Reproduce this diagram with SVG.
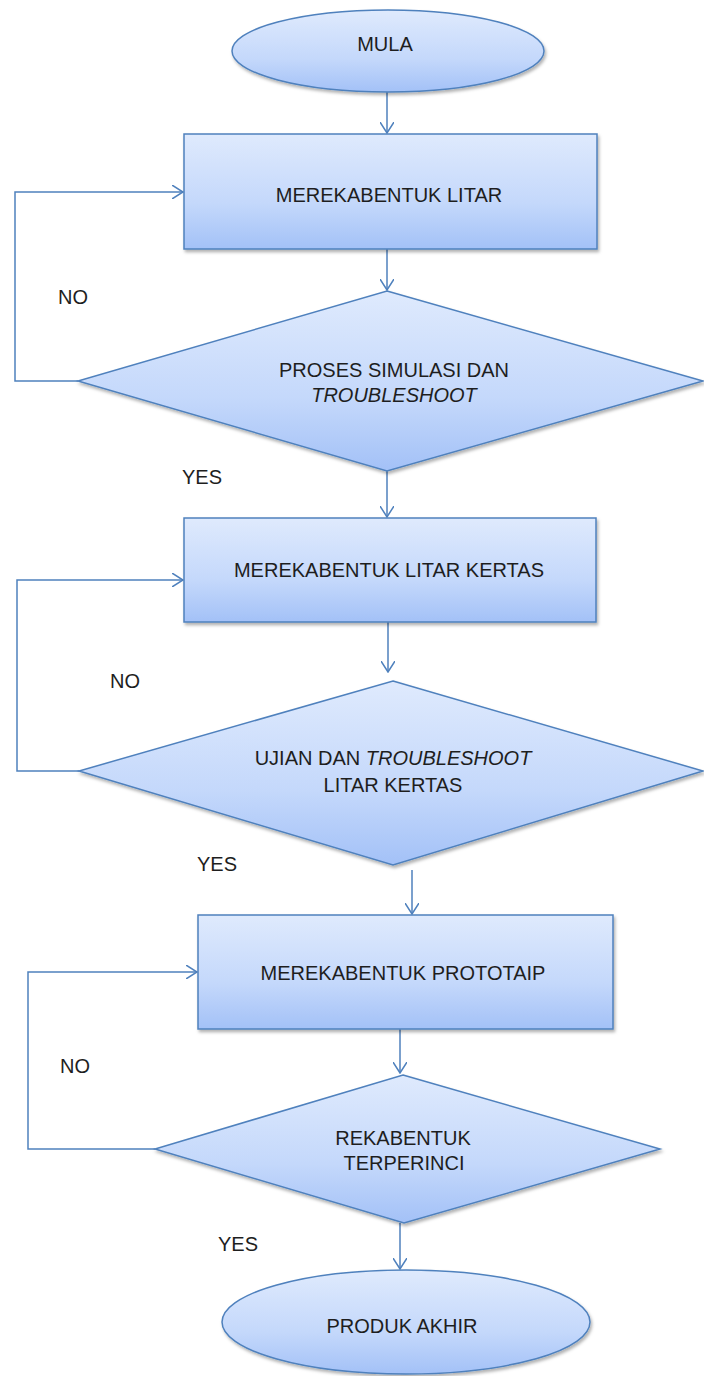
<svg xmlns="http://www.w3.org/2000/svg" width="704" height="1376" viewBox="0 0 704 1376">
<defs>
<linearGradient id="g" x1="0" y1="0" x2="0" y2="1">
<stop offset="0" stop-color="#dfeafd"/>
<stop offset="0.6" stop-color="#c4d8fb"/>
<stop offset="1" stop-color="#a3c1f7"/>
</linearGradient>
<filter id="sh" x="-10%" y="-10%" width="120%" height="130%">
<feDropShadow dx="1.5" dy="2.5" stdDeviation="1.5" flood-color="#000" flood-opacity="0.3"/>
</filter>
<marker id="arr" viewBox="0 0 12 14" refX="11" refY="7" markerWidth="12" markerHeight="14" markerUnits="userSpaceOnUse" orient="auto">
<path d="M0,0 L11,7 L0,14" fill="none" stroke="#4f81bd" stroke-width="1.5"/>
</marker>
<style>
.shape{fill:url(#g);stroke:#4f81bd;stroke-width:1.5;filter:url(#sh)}
.t{font-family:"Liberation Sans",Arial,sans-serif;font-size:20px;fill:#1e1e1e;text-anchor:middle}
.lbl{font-family:"Liberation Sans",Arial,sans-serif;font-size:20px;fill:#1e1e1e}
.c{fill:none;stroke:#4f81bd;stroke-width:1.5;marker-end:url(#arr)}
</style>
</defs>
<rect width="704" height="1376" fill="#fff"/>
<g id="connectors">
<path class="c" d="M387,92 L387,133"/>
<path class="c" d="M387,249 L387,290"/>
<path class="c" d="M78,381 L15,381 L15,192 L183,192"/>
<path class="c" d="M387,471 L387,517"/>
<path class="c" d="M388,622 L388,672"/>
<path class="c" d="M79,771 L17,771 L17,580 L183,580"/>
<path class="c" d="M412,870 L412,914"/>
<path class="c" d="M400,1029 L400,1073"/>
<path class="c" d="M155,1149 L28,1149 L28,972 L197,972"/>
<path class="c" d="M400,1223 L400,1269"/>
</g>
<g id="mula">
<ellipse class="shape" cx="388" cy="51" rx="156" ry="41"/>
<text class="t" x="385" y="51">MULA</text>
</g>
<g id="box1">
<rect class="shape" x="184" y="134" width="413" height="115"/>
<text class="t" x="389" y="202">MEREKABENTUK LITAR</text>
</g>
<g id="dec1">
<polygon class="shape" points="387,291 703,381 387,471 78,381"/>
<text class="t" x="394" y="377">PROSES SIMULASI DAN</text>
<text class="t" x="394" y="402" font-style="italic">TROUBLESHOOT</text>
</g>
<g id="box2">
<rect class="shape" x="184" y="518" width="412" height="104"/>
<text class="t" x="389" y="577">MEREKABENTUK LITAR KERTAS</text>
</g>
<g id="dec2">
<polygon class="shape" points="393,681 703,771 393,865 79,771"/>
<text class="t" x="393" y="765">UJIAN DAN <tspan font-style="italic">TROUBLESHOOT</tspan></text>
<text class="t" x="393" y="792">LITAR KERTAS</text>
</g>
<g id="box3">
<rect class="shape" x="198" y="915" width="415" height="114"/>
<text class="t" x="403" y="980">MEREKABENTUK PROTOTAIP</text>
</g>
<g id="dec3">
<polygon class="shape" points="403,1075 660,1149 404,1223 155,1149"/>
<text class="t" x="403" y="1145">REKABENTUK</text>
<text class="t" x="404" y="1170">TERPERINCI</text>
</g>
<g id="end">
<ellipse class="shape" cx="406" cy="1322" rx="184" ry="52"/>
<text class="t" x="402" y="1333">PRODUK AKHIR</text>
</g>
<g id="labels">
<text class="lbl" x="58" y="304">NO</text>
<text class="lbl" x="182" y="484">YES</text>
<text class="lbl" x="110" y="688">NO</text>
<text class="lbl" x="197" y="871">YES</text>
<text class="lbl" x="60" y="1073">NO</text>
<text class="lbl" x="218" y="1251">YES</text>
</g>
</svg>
